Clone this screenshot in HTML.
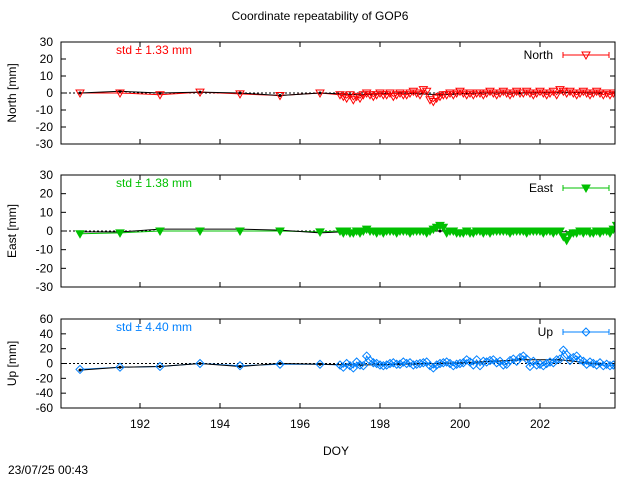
<!DOCTYPE html>
<html><head><meta charset="utf-8"><style>
body{margin:0;background:#fff;}
svg text{font-family:"Liberation Sans",sans-serif;font-size:12px;}
</style></head><body>
<svg id="chart" width="640" height="480" xmlns="http://www.w3.org/2000/svg"></svg>
<script>
const dailyDays=[190.5,191.5,192.5,193.5,194.5,195.5,196.5];
const refDays=[190.5,191.5,192.5,193.5,194.5,195.5,196.5,197.5,198.5,199.5,200.5,201.5,202.5,203.5];
const denseStart=197.0;
const denseStep=1/12;
const northDaily=[0,0,-1,0.5,-0.5,-1.5,0];
const northRef=[0,1,0,0.5,0,-1.5,0,-1,0,-1,0,0,0.5,0];
const northDense=[-1,-2,-3,-1,-4,-2,-3,-1,0,-1,-2,-1, 0,-1,-1,0,-2,-1,0,-1,-1,0,1,0, -1,2,1,-4,-5,-3,-2,-1,-1,0,-1,0, 1,0,-1,0,-1,0,0,-1,0,1,0,-1, 0,1,0,-1,0,1,0,0,1,0,-1,0, 1,0,-1,0,1,-1,2,1,0,1,0,-1, 0,1,0,-1,0,1,0,-1,0,-1,0,-1];
const eastDaily=[-1.5,-1,0,0,0,0,-0.5];
const eastRef=[-0.5,-0.5,1,1,1,0.5,-1,0,0,0,0,0,-0.5,0];
const eastDense=[0,-1,0,-1,-1,0,-1,0,1,0,0,-1, 0,-1,0,0,0,-1,0,0,0,-1,0,0, 0,0,-1,0,1,2,3,2,-1,0,0,-1, -1,-1,0,-1,-1,0,0,-1,0,-1,0,0, 0,0,0,-1,0,0,0,0,-1,0,0,0, 0,-1,0,0,-1,0,0,-3,-5,-2,-1,-1, 0,-1,0,-1,-1,0,-1,0,0,-1,1,3];
const upDaily=[-8,-5,-4,0,-3,-1,-1];
const upRef=[-9,-5,-4,0,-4,0,-1,-2,-1,0,2,5,5,-1];
const upDense=[-2,-5,0,-3,-6,2,-2,-3,10,4,1,0, -2,-3,-2,0,1,-1,-1,2,0,1,-2,-1, 0,1,2,-3,-6,-2,0,1,2,0,-3,-1, 0,1,5,2,-2,5,-3,3,2,4,5,1, 3,-2,-1,4,6,3,8,10,6,-4,3,-2, -1,-3,0,2,1,5,6,18,12,4,8,10, 5,3,-1,2,0,-2,1,-3,-1,-3,-2,-3];
const xTicks=[192,194,196,198,200,202];
const yTicksNE=[30,20,10,0,-10,-20,-30];
const yTicksU=[60,40,20,0,-20,-40,-60];

const svg=document.getElementById('chart');
const NS='http://www.w3.org/2000/svg';
function mk(tag,attrs,parent){const e=document.createElementNS(NS,tag);for(const k in attrs)e.setAttribute(k,attrs[k]);(parent||svg).appendChild(e);return e;}
const X0=61,X1=615,D0=190.025,D1=203.875;
const xs=d=>X0+(d-D0)/(D1-D0)*(X1-X0);

const panels=[
 {name:'north',top:42,bot:144,max:30,ticks:yTicksNE,label:'North [mm]',color:'#ff0000',daily:northDaily,ref:northRef,dense:northDense,marker:'tri-open',std:'std ± 1.33 mm',leg:'North'},
 {name:'east',top:175,bot:287,max:30,ticks:yTicksNE,label:'East [mm]',color:'#00c000',daily:eastDaily,ref:eastRef,dense:eastDense,marker:'tri-fill',std:'std ± 1.38 mm',leg:'East'},
 {name:'up',top:319,bot:408,max:60,ticks:yTicksU,label:'Up [mm]',color:'#0080ff',daily:upDaily,ref:upRef,dense:upDense,marker:'diamond',std:'std ± 4.40 mm',leg:'Up'}
];
const t=mk('text',{x:320,y:20,'text-anchor':'middle'});


t.textContent='Coordinate repeatability of GOP6';

function marker(g,type,x,y,color){
 let e;
 if(type==='diamond') e=mk('polygon',{points:`${x},${y-4} ${x+4},${y} ${x},${y+4} ${x-4},${y}`,fill:'none',stroke:color,'stroke-width':1},g);
 else e=mk('polygon',{points:`${x-4},${y-3} ${x+4},${y-3} ${x},${y+4}`,fill:type==='tri-fill'?color:'none',stroke:color,'stroke-width':1},g);
 
 
}
panels.forEach(p=>{
 const g=mk('g',{});
 
 
 const cp=mk('clipPath',{id:'clip-'+p.name},g);
 mk('rect',{x:X0,y:p.top,width:X1-X0,height:p.bot-p.top},cp);
 const ys=v=>p.top+(p.max-v)/(2*p.max)*(p.bot-p.top);
 p.ticks.forEach(v=>{
  const y=ys(v);
  const tl=mk('text',{x:53,y:y+4,'text-anchor':'end'},g);
  
  
  tl.textContent=v;
  mk('line',{x1:X0,x2:X0+5,y1:y,y2:y,stroke:'#000'},g);
  mk('line',{x1:X1,x2:X1-5,y1:y,y2:y,stroke:'#000'},g);
 });
 xTicks.forEach(d=>{
  const x=xs(d);
  mk('line',{x1:x,x2:x,y1:p.bot,y2:p.bot-5,stroke:'#000'},g);
  mk('line',{x1:x,x2:x,y1:p.top,y2:p.top+5,stroke:'#000'},g);
 });
 mk('line',{x1:X0,x2:X1,y1:ys(0),y2:ys(0),stroke:'#000','stroke-dasharray':'2,2'},g);
 const yl=mk('text',{x:16,y:(p.top+p.bot)/2,'text-anchor':'middle',transform:`rotate(-90 16 ${(p.top+p.bot)/2})`},g);
 
 
 yl.textContent=p.label;
 const st=mk('text',{x:116,y:p.top+12,fill:p.color},g);
 
 
 st.textContent=p.std;
 const dg=mk('g',{'clip-path':`url(#clip-${p.name})`},g);
 
 
 const pts=[];
 p.daily.forEach((v,i)=>pts.push([xs(dailyDays[i]),ys(v)]));
 p.dense.forEach((v,i)=>pts.push([xs(denseStart+i*denseStep),ys(v)]));
 const sl=mk('polyline',{points:pts.map(a=>a.join(',')).join(' '),fill:'none',stroke:p.color,'stroke-width':1},dg);
 
 
 const rl=mk('polyline',{points:p.ref.map((v,i)=>xs(refDays[i])+','+ys(v)).join(' '),fill:'none',stroke:'#000','stroke-width':1},dg);
 
 
 p.ref.forEach((v,i)=>{const c=mk('circle',{cx:xs(refDays[i]),cy:ys(v),r:1.5,fill:'#000'},dg);
  
  });
 pts.forEach(a=>marker(dg,p.marker,a[0],a[1],p.color));
 const lt=mk('text',{x:553,y:p.top+17,'text-anchor':'end'},g);
 
 
 lt.textContent=p.leg;
 const ly=p.top+13;
 mk('line',{x1:563,x2:609,y1:ly,y2:ly,stroke:p.color},g);
 mk('line',{x1:563,x2:563,y1:ly-3,y2:ly+3,stroke:p.color},g);
 mk('line',{x1:609,x2:609,y1:ly-3,y2:ly+3,stroke:p.color},g);
 marker(g,p.marker,586,ly,p.color);
 mk('rect',{x:X0,y:p.top,width:X1-X0,height:p.bot-p.top,fill:'none',stroke:'#000'},g);
});
xTicks.forEach(d=>{
 const tl=mk('text',{x:xs(d),y:428,'text-anchor':'middle'});
 
 
 tl.textContent=d;
});
const xt=mk('text',{x:336,y:455,'text-anchor':'middle'});


xt.textContent='DOY';
const ts=mk('text',{x:8,y:474});


ts.textContent='23/07/25 00:43';
</script>
</body></html>
